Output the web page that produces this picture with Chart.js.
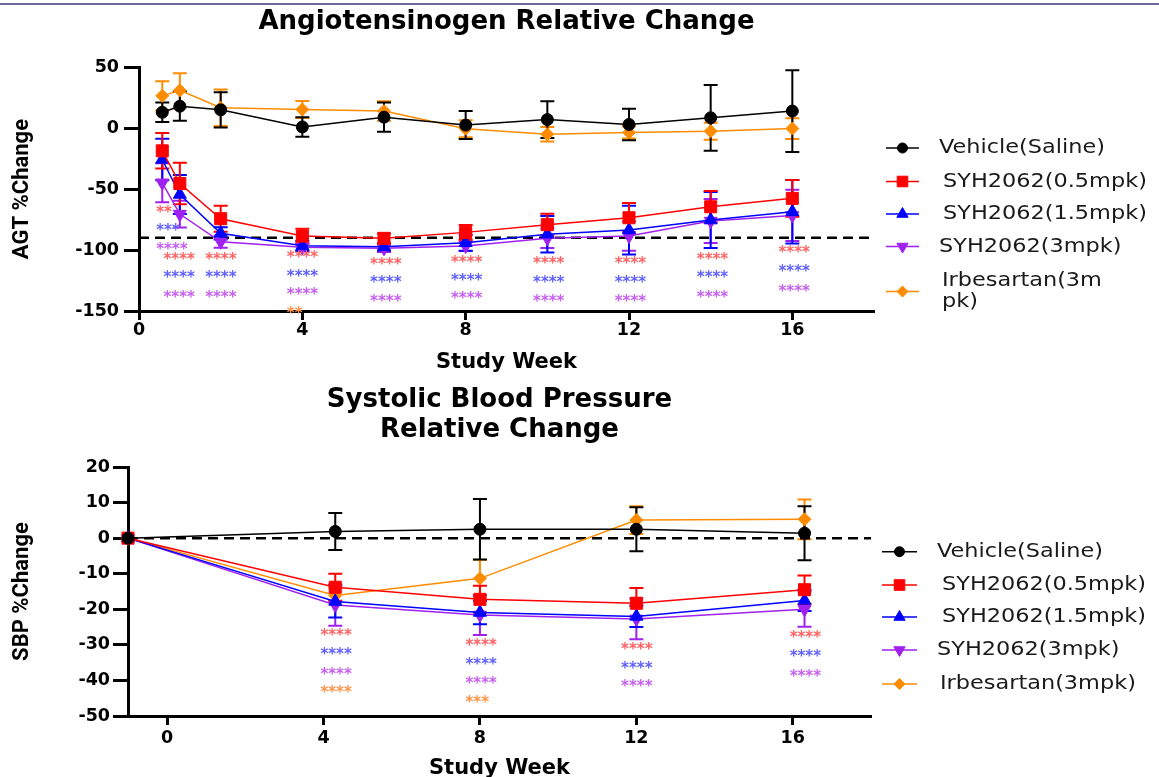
<!DOCTYPE html>
<html>
<head>
<meta charset="utf-8">
<title>AGT and SBP relative change</title>
<script src="https://cdn.jsdelivr.net/npm/chart.js@4.4.0/dist/chart.umd.min.js"></script>
<style>
  html, body { margin: 0; padding: 0; background: #fff; overflow: hidden; }
  body { width: 1159px; height: 777px; position: relative; }
  .box { position: absolute; left: 0; width: 1159px; }
  #boxAgt { top: 0; height: 381px; }
  #boxSbp { top: 380px; height: 406px; }
  .topline { position: absolute; left: 0; top: 3px; width: 1159px; height: 2px; background: #6a6a9e; }
</style>
</head>
<body>
<div class="box" id="boxAgt"><canvas id="agtChart"></canvas></div>
<div class="box" id="boxSbp"><canvas id="sbpChart"></canvas></div>
<div class="topline"></div>
<script>
// Series shared by both panels
const seriesNames = ['Vehicle(Saline)', 'SYH2062(0.5mpk)', 'SYH2062(1.5mpk)', 'SYH2062(3mpk)', 'Irbesartan(3mpk)'];

// AGT panel data (study week, % change, error)
const agtWeeks = [0.57, 1, 2, 4, 6, 8, 10, 12, 14, 16];
const agtVehicle = [13, 18, 15, 1, 9, 2.5, 7, 3, 8.5, 14];
const agtVehicleErr = [8, 12, 14.5, 8, 12, 11.5, 15, 13, 27, 33.5];
const agtLow = [-18.6, -45.4, -74.3, -88.5, -90.4, -85.5, -79.2, -73.5, -64.5, -57.6];
const agtLowErr = [14.6, 17, 10.7, 6, 4, 6, 9, 12, 13, 15];
const agtMid = [-25.7, -54.4, -86.3, -96.5, -97.3, -94, -87, -83.6, -75.4, -68.6];
const agtMidErr = [17, 16, 5, 4, 3, 6.5, 15, 20, 23, 26];
const agtHigh = [-44.8, -70.5, -93.2, -97.8, -98.6, -96.7, -90.4, -88.5, -76.2, -71.6];
const agtHighErr = [16, 11, 5, 3, 3, 4, 8, 12, 18, 21];
const agtIrb = [26.5, 31, 16.7, 15.3, 14, -0.5, -5, -3.5, -2.5, -0.3];
const agtIrbErr = [12, 14, 15, 7, 8, 7, 6, 5, 7, 8.5];
const agtRef = -90;
const agtWeekTicks = [0, 4, 8, 12, 16];
const agtValueTicks = [50, 0, -50, -100, -150];

// SBP panel data
const sbpWeeks = [-1, 4.3, 8, 12, 16.3];
const sbpVehicle = [0, 1.9, 2.5, 2.5, 1.4];
const sbpVehicleErr = [0, 5.2, 8.5, 6.2, 7.6];
const sbpLow = [0, -13.8, -17.2, -18.3, -14.5];
const sbpLowErr = [0, 3.8, 3.8, 4.3, 4];
const sbpMid = [0, -17.8, -20.9, -22, -17.5];
const sbpMidErr = [0, 4.5, 3.3, 3, 3];
const sbpHigh = [0, -18.8, -21.6, -22.7, -20];
const sbpHighErr = [0, 5.8, 5.6, 5.7, 4.9];
const sbpIrb = [0, -16.1, -11.3, 5.1, 5.3];
const sbpIrbErr = [0, 2, 5.2, 3.9, 5.6];
const sbpRef = 0;
const sbpWeekTicks = [0, 4, 8, 12, 16];
const sbpValueTicks = [20, 10, 0, -10, -20, -30, -40, -50];

// significance marks: [week (left edge), value, text]
const agtStarsLow = [[0.42, -66, '**'], [0.6, -105, '****'], [1.62, -105, '****'], [3.62, -103, '****'], [5.66, -109, '****'], [7.64, -107, '****'], [9.65, -108, '****'], [11.65, -108, '****'], [13.66, -105, '****'], [15.66, -99.5, '****']];
const agtStarsMid = [[0.42, -81, '***'], [0.6, -120, '****'], [1.62, -120, '****'], [3.62, -119, '****'], [5.66, -124, '****'], [7.64, -122, '****'], [9.65, -123.5, '****'], [11.65, -123.5, '****'], [13.66, -120, '****'], [15.66, -115, '****']];
const agtStarsHigh = [[0.42, -96.5, '****'], [0.6, -136, '****'], [1.62, -136, '****'], [3.62, -134, '****'], [5.66, -139.6, '****'], [7.64, -137, '****'], [9.65, -139.6, '****'], [11.65, -139.6, '****'], [13.66, -136, '****'], [15.66, -131, '****']];
const agtStarsIrb = [[3.62, -149.5, '**']];

const sbpStarsLow = [[3.92, -26.5, '****'], [7.63, -29.3, '****'], [11.61, -30.2, '****'], [15.92, -27, '****']];
const sbpStarsMid = [[3.92, -31.7, '****'], [7.63, -34.4, '****'], [11.61, -35.6, '****'], [15.92, -32.4, '****']];
const sbpStarsHigh = [[3.92, -37.3, '****'], [7.63, -39.8, '****'], [11.61, -40.8, '****'], [15.92, -37.8, '****']];
const sbpStarsIrb = [[3.92, -42.5, '****'], [7.63, -45.2, '***']];

// styles
const seriesColors = ['#000000', '#ff0000', '#0000ff', '#a020f0', '#ff8c00'];
const starColors = ['#000000', '#ff6262', '#6060ff', '#c660f0', '#ff9448'];
const pointStyles = ['circle', 'rect', 'triangle', 'triangle', 'rectRot'];
const pointRotations = [0, 0, 0, 180, 0];
const pointSizes = [6, 8.5, 7.5, 7.5, 6.5];
const legendSizes = [5, 7.5, 6.5, 6.5, 5.5];
const FONT = '"DejaVu Sans", sans-serif';

Chart.defaults.font.family = FONT;
Chart.defaults.color = '#000';

function buildDatasets(weeks, values, errors, ref, xMin, xMax) {
    const sets = values.map((vals, i) => ({
        label: seriesNames[i],
        data: vals.map((v, j) => ({ x: weeks[j], y: v })),
        errors: errors[i],
        borderColor: seriesColors[i],
        backgroundColor: seriesColors[i],
        borderWidth: 1.5,
        pointStyle: pointStyles[i],
        rotation: pointRotations[i],
        pointRadius: pointSizes[i],
        pointBorderWidth: 1,
        showLine: true,
        tension: 0,
        clip: false
    }));
    // dashed reference line
    sets.push({
        label: 'ref',
        isRef: true,
        data: [{ x: xMin, y: ref }, { x: xMax, y: ref }],
        borderColor: '#000',
        borderWidth: 2.5,
        borderDash: [10, 6],
        pointRadius: 0,
        showLine: true,
        clip: false
    });
    return sets;
}

// vertical error bars with caps
const errorBars = {
    id: 'errorBars',
    beforeDatasetsDraw(chart) {
        const ctx = chart.ctx;
        const yScale = chart.scales.y;
        for (let i = chart.data.datasets.length - 1; i >= 0; i--) {
            const ds = chart.data.datasets[i];
            if (!ds.errors) continue;
            const meta = chart.getDatasetMeta(i);
            ctx.save();
            ctx.strokeStyle = ds.borderColor;
            ctx.lineWidth = 2;
            meta.data.forEach((pt, j) => {
                const e = ds.errors[j];
                if (!e) return;
                const v = ds.data[j].y;
                const top = yScale.getPixelForValue(v + e);
                const bot = yScale.getPixelForValue(v - e);
                ctx.beginPath();
                ctx.moveTo(pt.x, top); ctx.lineTo(pt.x, bot);
                ctx.moveTo(pt.x - 7, top); ctx.lineTo(pt.x + 7, top);
                ctx.moveTo(pt.x - 7, bot); ctx.lineTo(pt.x + 7, bot);
                ctx.stroke();
            });
            ctx.restore();
        }
    }
};

// asterisk rows under the points
const starMarks = {
    id: 'starMarks',
    afterDatasetsDraw(chart, args, opts) {
        const ctx = chart.ctx;
        const xs = chart.scales.x, ys = chart.scales.y;
        ctx.save();
        ctx.font = 'bold 15px ' + FONT;
        ctx.textAlign = 'left';
        ctx.textBaseline = 'alphabetic';
        opts.groups.forEach(g => {
            ctx.fillStyle = starColors[g.series];
            g.marks.forEach(([wk, val, txt]) => {
                const m = ctx.measureText(txt);
                const off = (m.actualBoundingBoxAscent - m.actualBoundingBoxDescent) / 2;
                ctx.fillText(txt, xs.getPixelForValue(wk), ys.getPixelForValue(val) + off);
            });
        });
        ctx.restore();
    }
};

// legend at the right side
const sideLegend = {
    id: 'sideLegend',
    afterDraw(chart, args, opts) {
        const ctx = chart.ctx;
        ctx.save();
        opts.rows.forEach((rowY, i) => {
            const ds = chart.data.datasets[i];
            const cx = (opts.lineX[0] + opts.lineX[1]) / 2;
            ctx.strokeStyle = ds.borderColor;
            ctx.fillStyle = ds.borderColor;
            ctx.lineWidth = 1.5;
            ctx.beginPath();
            ctx.moveTo(opts.lineX[0], rowY);
            ctx.lineTo(opts.lineX[1], rowY);
            ctx.stroke();
            ctx.lineWidth = 1;
            Chart.helpers.drawPoint(ctx, {
                pointStyle: pointStyles[i],
                rotation: pointRotations[i],
                radius: legendSizes[i],
                borderWidth: 1
            }, cx, rowY);
            const lines = (opts.text && opts.text[i]) || [ds.label];
            ctx.fillStyle = '#1a1a1a';
            ctx.font = '20px ' + FONT;
            ctx.textBaseline = 'middle';
            ctx.textAlign = 'left';
            lines.forEach((ln, k) => {
                ctx.save();
                ctx.translate(opts.textX[i], rowY + (k - (lines.length - 1) / 2) * 21);
                ctx.scale(1.12, 1);
                ctx.fillText(ln, 0, 0);
                ctx.restore();
            });
        });
        ctx.restore();
    }
};

function axisOptions(cfg) {
    return {
        x: {
            type: 'linear',
            min: cfg.xMin,
            max: cfg.xMax,
            afterBuildTicks: s => { s.ticks = cfg.xTicks.map(v => ({ value: v })); },
            afterFit: s => { s.height = 70; },
            grid: { drawOnChartArea: false, drawTicks: true, tickLength: 9, tickWidth: 3, tickColor: '#000' },
            border: { display: true, width: 3, color: '#000' },
            ticks: { padding: cfg.xTickPad, color: '#000', font: { size: 17.5, weight: 'bold' } },
            title: { display: true, text: 'Study Week', color: '#000', font: { size: 21, weight: 'bold', lineHeight: 1.2 }, padding: { top: 0, bottom: cfg.xTitlePad } }
        },
        y: {
            type: 'linear',
            min: cfg.yMin,
            max: cfg.yMax,
            afterBuildTicks: s => { s.ticks = cfg.yTicks.map(v => ({ value: v })); },
            afterFit: s => { s.width = cfg.yWidth; },
            grid: { drawOnChartArea: false, drawTicks: true, tickLength: 15, tickWidth: 3, tickColor: '#000' },
            border: { display: true, width: 3, color: '#000' },
            ticks: { padding: cfg.yTickPad, color: '#000', font: { size: 17.5, weight: 'bold' } },
            title: { display: true, text: cfg.yTitle, color: '#000', font: { family: 'Roboto, sans-serif', size: 22, weight: 'bold', lineHeight: 1.2 }, padding: { top: 9, bottom: 0 } }
        }
    };
}

// Top panel: AGT
const agtChart = new Chart(document.getElementById('agtChart'), {
    type: 'scatter',
    data: {
        datasets: buildDatasets(agtWeeks,
            [agtVehicle, agtLow, agtMid, agtHigh, agtIrb],
            [agtVehicleErr, agtLowErr, agtMidErr, agtHighErr, agtIrbErr],
            agtRef, 0, 18)
    },
    options: {
        responsive: true,
        maintainAspectRatio: false,
        animation: false,
        layout: { padding: { left: 0, right: 285, top: 0, bottom: 0 } },
        scales: axisOptions({
            xMin: 0, xMax: 18, xTicks: agtWeekTicks, xTickPad: 0, xTitlePad: 6,
            yMin: -150, yMax: 50, yTicks: agtValueTicks, yWidth: 139, yTickPad: 5,
            yTitle: 'AGT %Change'
        }),
        plugins: {
            legend: { display: false },
            tooltip: { enabled: false },
            title: {
                display: true,
                fullSize: false,
                text: 'Angiotensinogen Relative Change',
                color: '#000',
                font: { size: 26, weight: 'bold', lineHeight: 1.2 },
                padding: { top: 7, bottom: 29 }
            },
            starMarks: {
                groups: [
                    { series: 1, marks: agtStarsLow },
                    { series: 2, marks: agtStarsMid },
                    { series: 3, marks: agtStarsHigh },
                    { series: 4, marks: agtStarsIrb }
                ]
            },
            sideLegend: {
                rows: [148, 181.5, 214, 246.5, 291.5],
                lineX: [886, 919],
                textX: [939, 943, 943, 939, 942],
                text: { 4: ['Irbesartan(3m', 'pk)'] }
            }
        }
    },
    plugins: [errorBars, starMarks, sideLegend]
});

// Bottom panel: SBP
const sbpChart = new Chart(document.getElementById('sbpChart'), {
    type: 'scatter',
    data: {
        datasets: buildDatasets(sbpWeeks,
            [sbpVehicle, sbpLow, sbpMid, sbpHigh, sbpIrb],
            [sbpVehicleErr, sbpLowErr, sbpMidErr, sbpHighErr, sbpIrbErr],
            sbpRef, -1, 18)
    },
    options: {
        responsive: true,
        maintainAspectRatio: false,
        animation: false,
        layout: { padding: { left: 0, right: 288, top: 0, bottom: 0 } },
        scales: axisOptions({
            xMin: -1, xMax: 18, xTicks: sbpWeekTicks, xTickPad: 2.5, xTitlePad: 5,
            yMin: -50, yMax: 20, yTicks: sbpValueTicks, yWidth: 128, yTickPad: 3,
            yTitle: 'SBP %Change'
        }),
        plugins: {
            legend: { display: false },
            tooltip: { enabled: false },
            title: {
                display: true,
                fullSize: false,
                text: ['Systolic Blood Pressure', 'Relative Change'],
                color: '#000',
                font: { size: 26, weight: 'bold', lineHeight: 1.154 },
                padding: { top: 5, bottom: 22 }
            },
            starMarks: {
                groups: [
                    { series: 1, marks: sbpStarsLow },
                    { series: 2, marks: sbpStarsMid },
                    { series: 3, marks: sbpStarsHigh },
                    { series: 4, marks: sbpStarsIrb }
                ]
            },
            sideLegend: {
                rows: [171.7, 205, 237, 270, 304],
                lineX: [882, 917],
                textX: [937, 942, 942, 937, 940]
            }
        }
    },
    plugins: [errorBars, starMarks, sideLegend]
});
</script>
</body>
</html>
